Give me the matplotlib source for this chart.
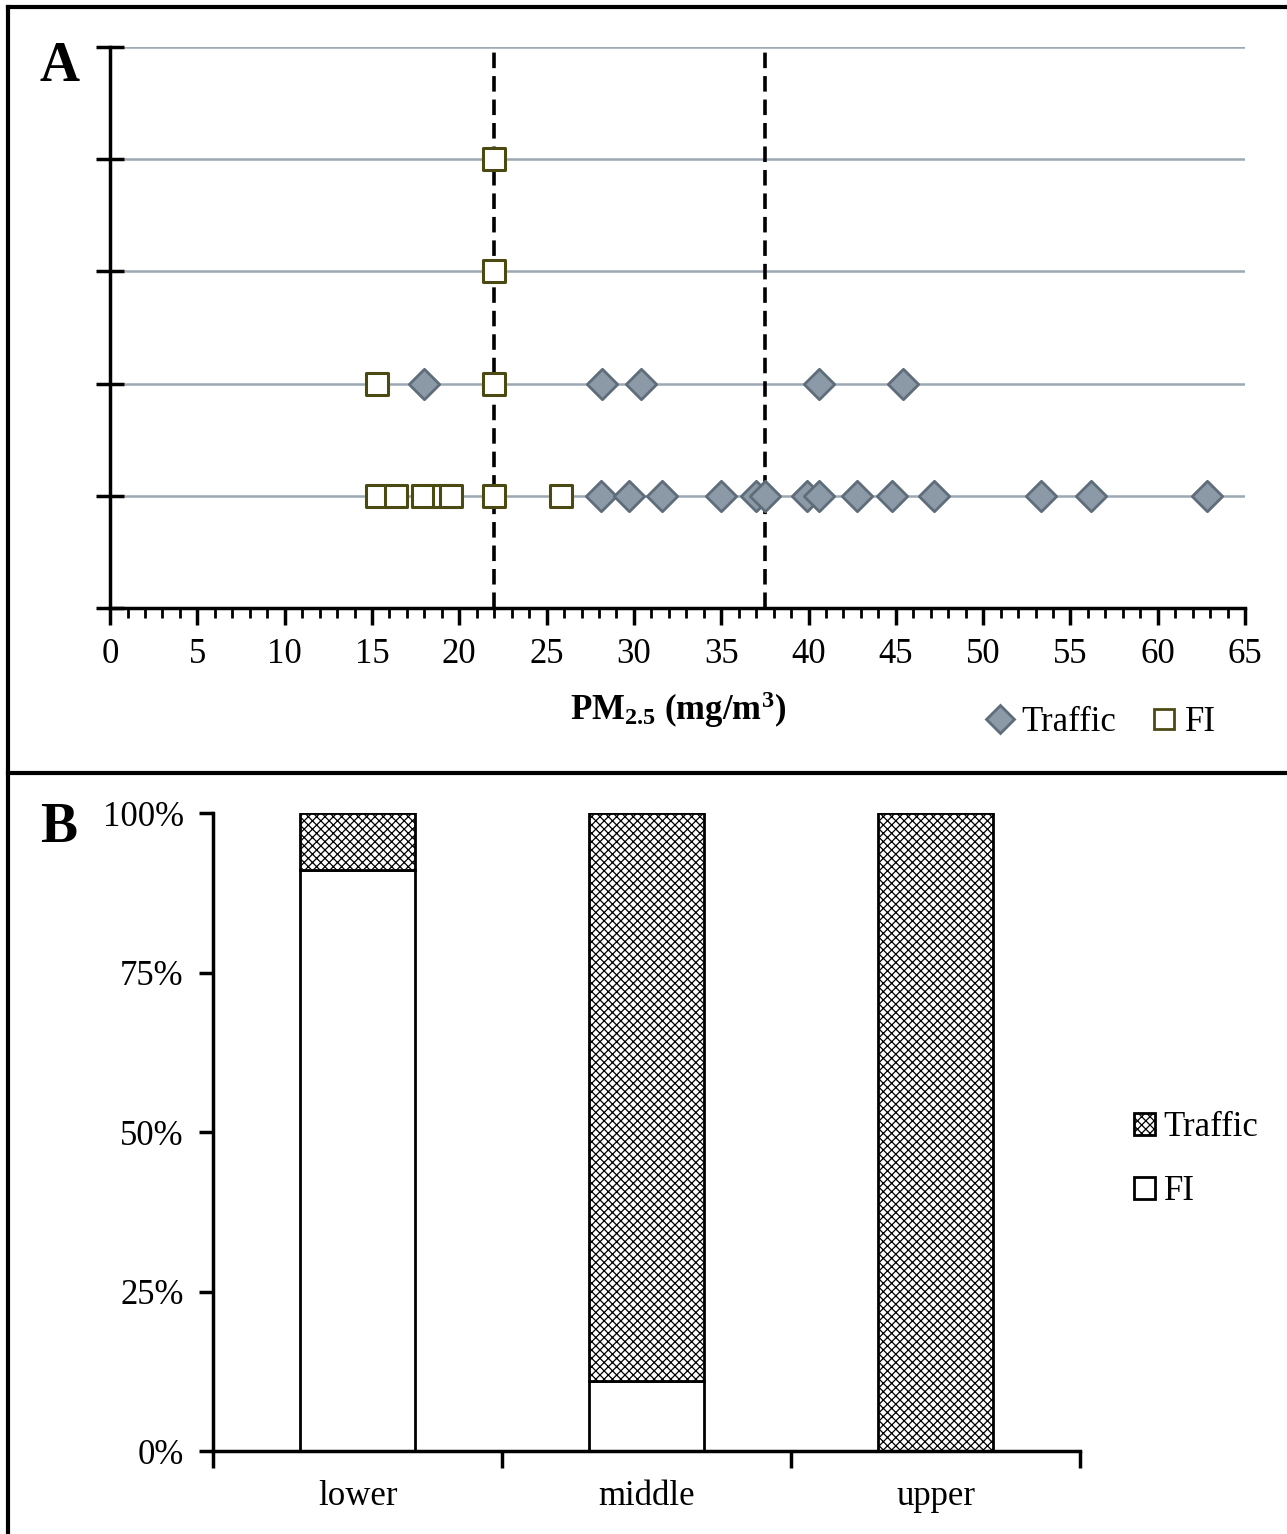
import matplotlib
matplotlib.use('Agg')
import matplotlib.pyplot as plt
from matplotlib.lines import Line2D
from matplotlib.patches import Patch

plt.rcParams['font.family'] = ['Liberation Serif', 'DejaVu Serif']
plt.rcParams['mathtext.fontset'] = 'custom'
plt.rcParams['mathtext.rm'] = 'Liberation Serif'
plt.rcParams['mathtext.bf'] = 'Liberation Serif:bold'
plt.rcParams['mathtext.default'] = 'bf'
plt.rcParams['hatch.color'] = '#95a2ae'
plt.rcParams['hatch.linewidth'] = 0.9

# Panel A: PM2.5 measurements per row
traffic_row1 = [28.1, 29.7, 31.6, 35.0, 37.0, 37.5, 39.9, 40.6, 42.8, 44.8, 47.2, 53.3, 56.2, 62.8]
fi_row1 = [15.3, 16.4, 17.9, 19.1, 19.5, 22.0, 25.8]
traffic_row2 = [18.0, 28.2, 30.4, 40.6, 45.4]
fi_row2 = [15.3, 22.0]
fi_row3 = [22.0]
fi_row4 = [22.0]
cutoffs = [22.0, 37.5]

# Panel B: share of sources per tertile
groups = ['lower', 'middle', 'upper']
fi_share = [0.91, 0.11, 0.0]
traffic_share = [0.09, 0.89, 1.0]

diamond_face = '#8c99a6'
diamond_edge = '#5f6d7a'
square_edge = '#4b4a12'
grid_col = '#9ca8b4'

fig = plt.figure(figsize=(12.87, 15.34), dpi=100)

# ---- panel A ----
ax = fig.add_axes([0.0855, 0.6037, 0.8819, 0.3657])
for yv in range(1, 6):
    ax.axhline(yv, color=grid_col, lw=1.8, zorder=1)
for c in cutoffs:
    ax.plot([c, c], [0, 5], color='black', ls=(0, (4.3, 2.2)), lw=2.6, zorder=2)

ax.scatter(traffic_row1, [1] * len(traffic_row1), marker='D', s=240,
           facecolor=diamond_face, edgecolor=diamond_edge, lw=2, zorder=3)
ax.scatter(traffic_row2, [2] * len(traffic_row2), marker='D', s=240,
           facecolor=diamond_face, edgecolor=diamond_edge, lw=2, zorder=3)
for vals, yv in [(fi_row1, 1), (fi_row2, 2), (fi_row3, 3), (fi_row4, 4)]:
    ax.scatter(vals, [yv] * len(vals), marker='s', s=260, facecolor='white',
               edgecolor=square_edge, lw=2.2, zorder=4)

ax.set_xlim(0, 65)
ax.set_ylim(0, 5)
ax.set_xticks(range(0, 66, 5))
ax.set_xticks(range(0, 66), minor=True)
ax.set_yticks(range(0, 6))
ax.set_yticklabels([])
ax.tick_params(axis='x', which='major', direction='out', length=12, width=2.5,
               labelsize=25, pad=10)
ax.tick_params(axis='x', which='minor', direction='out', length=7, width=2)
ax.tick_params(axis='y', direction='inout', length=20, width=2.5)
for s in ['top', 'right']:
    ax.spines[s].set_visible(False)
for s in ['left', 'bottom']:
    ax.spines[s].set_linewidth(2.5)
ax.set_xlabel('PM$_{2.5}$ (mg/m$^3$)', fontsize=25, fontweight='bold', labelpad=13)

handles_a = [
    Line2D([], [], marker='D', ls='none', markersize=14, markerfacecolor=diamond_face,
           markeredgecolor=diamond_edge, markeredgewidth=2, label='Traffic'),
    Line2D([], [], marker='s', ls='none', markersize=15, markerfacecolor='white',
           markeredgecolor=square_edge, markeredgewidth=2, label='FI'),
]
fig.legend(handles=handles_a, loc='center', bbox_to_anchor=(0.853, 0.529), ncol=2,
           frameon=False, fontsize=25, handletextpad=0.0, columnspacing=0.8,
           handlelength=1.2)
fig.text(0.031, 0.956, 'A', fontsize=40, fontweight='bold', va='center')

# ---- panel B ----
bx = fig.add_axes([0.1655, 0.0541, 0.6737, 0.4159])
xpos = [0.5, 1.5, 2.5]
bx.bar(xpos, fi_share, width=0.4, color='white', edgecolor='black', lw=2, zorder=2)
bx.bar(xpos, traffic_share, width=0.4, bottom=fi_share, color='white',
       edgecolor='black', lw=2, hatch='xxxx', zorder=2)
bx.set_xlim(0, 3)
bx.set_ylim(0, 1)
bx.set_xticks([0, 1, 2, 3])
bx.set_xticklabels([])
bx.set_xticks(xpos, minor=True)
bx.set_xticklabels(groups, minor=True)
bx.tick_params(axis='x', which='major', direction='out', length=12, width=2.5)
bx.tick_params(axis='x', which='minor', length=0, labelsize=25, pad=21)
bx.set_yticks([0, 0.25, 0.5, 0.75, 1.0])
bx.set_yticklabels(['0%', '25%', '50%', '75%', '100%'])
bx.tick_params(axis='y', direction='out', length=10, width=2.5, labelsize=25, pad=11)
for s in ['top', 'right']:
    bx.spines[s].set_visible(False)
for s in ['left', 'bottom']:
    bx.spines[s].set_linewidth(2.5)

handles_b = [
    Patch(facecolor='white', edgecolor='black', hatch='xxxx', lw=2, label='Traffic'),
    Patch(facecolor='white', edgecolor='black', lw=2, label='FI'),
]
fig.legend(handles=handles_b, loc='center left', bbox_to_anchor=(0.857, 0.244),
           frameon=False, fontsize=25, handlelength=0.6, handleheight=0.6,
           handletextpad=0.25, labelspacing=0.9)
fig.text(0.031, 0.46, 'B', fontsize=40, fontweight='bold', va='center')

# outer frame lines
fig.add_artist(Line2D([0.006, 0.006], [0, 0.9955], color='black', lw=3,
                      transform=fig.transFigure))
fig.add_artist(Line2D([0.006, 1.0], [0.9955, 0.9955], color='black', lw=3,
                      transform=fig.transFigure))
fig.add_artist(Line2D([0.006, 1.0], [0.496, 0.496], color='black', lw=3,
                      transform=fig.transFigure))

fig.savefig('out.png', dpi=100, facecolor='white')
